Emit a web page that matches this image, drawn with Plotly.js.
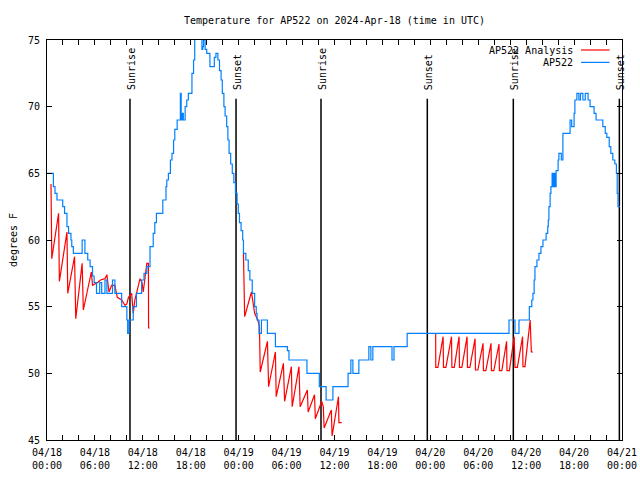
<!DOCTYPE html>
<html><head><meta charset="utf-8">
<script src="https://cdn.plot.ly/plotly-3.0.1.min.js"></script>
<style>html,body{margin:0;padding:0;background:#fff}#chart{width:640px;height:480px}</style>
</head><body><div id="chart"></div>
<script>
// Hours since 2024-04-18 00:00 UTC
const obsHours = [0,0.8,1.0,1.25,1.97,2.2,2.5,2.7,3.0,3.1,3.3,4.4,4.75,5.1,5.4,5.7,5.9,6.2,6.6,6.85,7.26,7.5,8.2,8.5,9.35,10.0,10.1,10.27,10.8,11.2,11.85,12.15,12.5,12.9,13.3,13.5,13.7,14.5,14.9,15.0,15.2,15.45,15.65,15.85,16.0,16.3,16.7,16.8,16.95,17.07,17.3,17.5,17.7,17.9,18.15,18.35,18.5,18.8,19.15,19.4,19.5,19.6,19.8,20.0,20.4,20.95,21.15,21.4,21.6,21.8,21.95,22.15,22.3,22.5,22.65,22.8,23.0,23.2,23.4,23.6,23.8,23.95,24.1,24.3,24.5,24.6,24.9,25.2,25.4,25.7,26.0,26.2,26.3,26.55,26.85,27.6,28.6,30.1,30.3,32.55,34.1,34.95,35.8,37.7,38.05,38.3,39.05,40.3,40.55,40.8,43.2,43.45,45.1,57.85,58.6,59.1,60.4,60.7,60.85,61.0,61.1,61.35,61.6,61.85,62.1,62.5,62.7,62.77,62.85,63.0,63.1,63.25,63.4,63.5,63.6,63.75,64.0,64.1,64.4,64.6,65.5,65.7,66.0,66.1,66.35,66.6,66.8,67.1,67.4,67.75,68.0,68.5,68.75,69.6,69.9,70.1,70.4,70.6,70.85,71.1,71.3,71.4,71.5,71.75];
const obsTemps = [65,64,63.5,63,62.5,62,61,60.5,60,59.5,59,60,59,58.5,58,57.3,56.8,56,56.8,56,57,56,57,56,55,54,53,54,55,56,57,57.5,58,59.5,60.5,61.3,62,63,64,64.5,65,66,66.5,67.5,68.3,69,71,69,69.5,69,70,70.5,71,71,72.5,73.5,75.5,76,75.5,74.3,74.5,75,74.3,74,73,73.7,74,73.5,72.7,72,71,70,69.3,68.5,67.5,66.5,65.7,65,64.3,63.5,62.7,62,61.3,60.7,60,59,58.5,57.7,57,56,55,54.5,54,53,54,53,52,51.7,51,50,49,48,49,50,51,50,51,52,51,52,51,52,53,54,53,54,55,55.5,56,57,58,58.5,59,59.5,60,60.5,61,61.5,62.5,63.5,64,65,64,65,64,65.2,66,66.5,66,68,69,68.5,69.5,70.5,71,70.5,71,70.5,71,70.5,70,69.5,69,68.5,68,67.7,67,66.5,66,65.7,65,63.5,62.5,62.5];

const anaHours = [0.5,0.6,1.45,1.55,2.5,2.6,3.45,3.6,4.4,4.55,5.55,5.7,6.3,6.7,7.26,7.5,7.76,8.1,8.5,8.8,9.35,9.77,10.0,10.2,10.6,10.8,11.0,11.65,11.9,12.05,12.5,12.7,12.72,12.85,
  13.5,
  24.6,24.65,24.75,25.6,25.8,26.0,26.4,26.6,26.7,27.6,27.75,28.6,28.7,29.6,29.75,30.6,30.7,31.55,31.7,32.6,32.7,33.5,33.6,34.4,34.6,34.7,35.6,35.7,36.5,36.55,36.9,
  40,
  48.67,48.68,48.95,49.6,49.65,49.95,50.65,50.7,51.0,51.6,51.65,51.95,52.6,52.65,52.95,53.6,53.65,53.95,54.6,54.65,54.95,55.6,55.65,55.95,56.6,56.65,56.95,57.55,57.6,57.9,58.5,58.6,58.9,59.55,59.6,59.85,60.5,60.6,60.65,60.85];
const anaTemps = [64.2,58.6,62.0,56.9,60.6,56.0,58.75,54.1,58.25,54.75,57.6,56.6,56.8,57.0,57.1,57.4,56.1,56.6,56.6,55.7,55.5,55.1,55.2,55.7,56.0,54.5,55.5,57.1,56.8,56.1,58.25,58.25,53.4,53.4,
  null,
  59.0,57.5,54.25,56.1,55.3,54.5,54.0,53.5,50.1,52.4,49.0,51.6,48.25,50.75,47.9,50.5,47.5,50.5,47.5,48.75,47.1,48.4,46.6,47.9,47.5,45.9,47.25,45.3,48.25,46.3,46.3,
  null,
  53.0,50.45,50.45,52.75,50.45,50.45,52.75,50.45,50.45,52.75,50.45,50.45,52.75,50.45,50.45,52.6,50.25,50.25,52.25,50.2,50.2,52.25,50.2,50.2,52.2,50.2,50.2,52.4,50.2,50.2,52.75,50.45,50.45,52.75,50.5,50.5,54.0,53.0,51.6,51.6];

const sunHours = [10.39, 23.67, 34.31, 47.62, 58.39, 71.67];
const sunLabels = ['Sunrise','Sunset','Sunrise','Sunset','Sunrise','Sunset'];

const tickHours = [0,6,12,18,24,30,36,42,48,54,60,66,72];
const tickDays  = ['04/18','04/18','04/18','04/18','04/19','04/19','04/19','04/19','04/20','04/20','04/20','04/20','04/21'];
const tickTimes = ['00:00','06:00','12:00','18:00','00:00','06:00','12:00','18:00','00:00','06:00','12:00','18:00','00:00'];

const seriesNames = ['AP522 Analysis','AP522'];
const seriesColors = ['#ff0000','#0080ff'];

const FONT = {family:'DejaVu Sans Mono, monospace', size:10, color:'#000'};

const traces = [
  {x: anaHours, y: anaTemps, type:'scatter', mode:'lines', name: seriesNames[0],
   line:{color: seriesColors[0], width:1.2}, connectgaps:false, showlegend:false},
  {x: obsHours, y: obsTemps, type:'scatter', mode:'lines', name: seriesNames[1],
   line:{color: seriesColors[1], width:1.2, shape:'hv'}, showlegend:false}
];

const shapes = sunHours.map(h => ({type:'line', xref:'x', yref:'y', x0:h, x1:h, y0:45, y1:70.6,
  line:{color:'#000', width:1.5}, layer:'below'}));
const annotations = sunHours.map((h,i) => ({xref:'x', yref:'y', x:h, y:71.1, text: sunLabels[i],
  showarrow:false, textangle:-90, xanchor:'center', yanchor:'bottom', xshift:1, font: FONT}));

// gnuplot-style key (text left, sample right)
const keyY = [0.975, 0.944];
seriesNames.forEach((n,i) => {
  annotations.push({xref:'paper', yref:'paper', x:0.9174, y:keyY[i], text:n, showarrow:false,
    xanchor:'right', yanchor:'middle', font: FONT});
  shapes.push({type:'line', xref:'paper', yref:'paper', x0:0.9287, x1:0.9783, y0:keyY[i], y1:keyY[i],
    line:{color: seriesColors[i], width:1.2}});
});

const layout = {
  width:640, height:480,
  margin:{l:47, r:18, t:40, b:40},
  paper_bgcolor:'#fff', plot_bgcolor:'#fff',
  font: FONT,
  showlegend:false,
  title:{text:'Temperature for AP522 on 2024-Apr-18 (time in UTC)', font: FONT,
    x:0.5, xref:'paper', xanchor:'center', y:1-20/480, yanchor:'middle'},
  xaxis:{range:[0,72], tickvals: tickHours, ticktext: tickHours.map((h,i)=>tickDays[i]+'<br>'+tickTimes[i]),
    showgrid:false, zeroline:false, showline:true, linecolor:'#000', linewidth:1, mirror:'ticks',
    ticks:'inside', ticklen:5, tickcolor:'#000', tickfont: FONT, ticklabelstandoff:3,
    minor:{dtick:2, tick0:0, ticks:'inside', ticklen:5, tickcolor:'#000', showgrid:false}},
  yaxis:{range:[45,75], dtick:5, tick0:45, showgrid:false, zeroline:false, showline:true, linecolor:'#000',
    linewidth:1, mirror:'ticks', ticks:'inside', ticklen:5, tickcolor:'#000', tickfont: FONT, ticklabelstandoff:4,
    title:{text:'degrees F', font: FONT}},
  shapes: shapes,
  annotations: annotations
};

Plotly.newPlot('chart', traces, layout, {staticPlot:true, displayModeBar:false});
</script>
</body></html>
